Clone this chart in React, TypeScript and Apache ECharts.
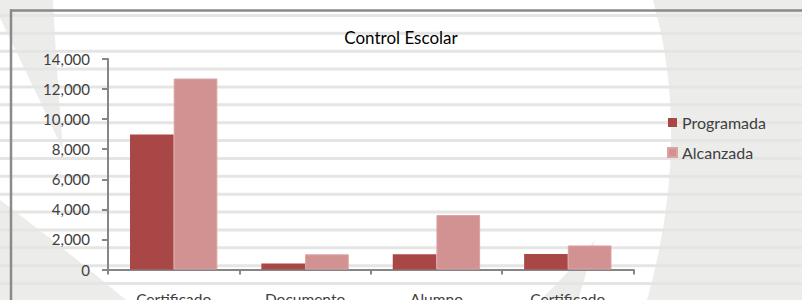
import React, { useEffect, useRef } from "react";
import * as echarts from "echarts";

const categories = ["Certificado", "Documento", "Alumno", "Certificado"];
const programada = [8980, 400, 1010, 1030];
const alcanzada = [12700, 1010, 3620, 1600];
const seriesNames = ["Programada", "Alcanzada"];
const yTicks = { min: 0, max: 14000, interval: 2000 };

echarts.graphic.registerShape(
  "wedgeTL",
  echarts.graphic.extendPath("M0,0 L53,0 Q57,80 63,150 Q35,90 0,18 Z", {})
);
echarts.graphic.registerShape(
  "wedgeBL",
  echarts.graphic.extendPath("M0,200 Q60,245 126,300 L0,300 Z", {})
);
echarts.graphic.registerShape(
  "regionR",
  echarts.graphic.extendPath("M653,0 Q692,140 647,300 L802,300 L802,0 Z", {})
);
echarts.graphic.registerShape(
  "wedgeBM",
  echarts.graphic.extendPath("M595,240 Q570,272 540,300 L578,300 Q588,268 595,240 Z", {})
);

export default function App() {
  const ref = useRef<HTMLDivElement>(null);
  useEffect(() => {
    if (!ref.current) return;
    const chart = echarts.init(ref.current, undefined, { renderer: "svg" });
    const bgGray = "#ececea";
    const graphics: any[] = [
      { type: "wedgeTL", x: 0, y: 0, z: -20, silent: true, style: { fill: bgGray } },
      { type: "wedgeBL", x: 0, y: 0, z: -20, silent: true, style: { fill: bgGray } },
      { type: "regionR", x: 0, y: 0, z: -20, silent: true, style: { fill: bgGray } },
      { type: "wedgeBM", x: 0, y: 0, z: -20, silent: true, style: { fill: bgGray } },
    ];
    for (let i = 0; i < 17; i++) {
      graphics.push({
        type: "rect",
        z: -15,
        silent: true,
        shape: { x: 0, y: 14 + i * 17.87, width: 802, height: 3 },
        style: { fill: "#e5e5e4" },
      });
    }
    graphics.push(
      {
        type: "line",
        z: -5,
        silent: true,
        shape: { x1: 10, y1: 10.5, x2: 802, y2: 10.5 },
        style: { stroke: "#8a8a8a", lineWidth: 2.5 },
      },
      {
        type: "line",
        z: -5,
        silent: true,
        shape: { x1: 11, y1: 9.5, x2: 11, y2: 300 },
        style: { stroke: "#8a8a8a", lineWidth: 2.5 },
      }
    );
    const font = "Lato, 'Open Sans', sans-serif";
    const axisColor = "#868686";
    chart.setOption({
      animation: false,
      backgroundColor: "#ffffff",
      graphic: graphics,
      title: {
        text: "Control Escolar",
        left: "center",
        top: 24,
        textStyle: { fontFamily: font, fontSize: 17, fontWeight: "normal", color: "#000000" },
      },
      legend: {
        orient: "vertical",
        left: 662,
        top: 108,
        itemWidth: 9,
        itemHeight: 9,
        itemGap: 11,
        icon: "rect",
        data: seriesNames,
        textStyle: { fontFamily: font, fontSize: 16, color: "#404040", lineHeight: 19 },
      },
      grid: {
        left: 108,
        top: 59,
        width: 525.5,
        height: 210.5,
        containLabel: false,
        outerBoundsMode: "none",
      },
      xAxis: {
        type: "category",
        data: categories,
        axisLine: { lineStyle: { color: axisColor, width: 2 } },
        axisTick: { show: true, length: 5, lineStyle: { color: axisColor, width: 2 } },
        axisLabel: { margin: 21, fontFamily: font, fontSize: 15.5, color: "#404040" },
      },
      yAxis: {
        type: "value",
        min: yTicks.min,
        max: yTicks.max,
        interval: yTicks.interval,
        axisLine: { show: true, lineStyle: { color: axisColor, width: 2 } },
        axisTick: { show: true, length: 6, lineStyle: { color: axisColor, width: 2 } },
        splitLine: { show: false },
        axisLabel: {
          margin: 18,
          fontFamily: font,
          fontSize: 15,
          color: "#404040",
          formatter: (v: number) => v.toLocaleString("en-US"),
        },
      },
      series: [
        {
          name: seriesNames[0],
          type: "bar",
          data: programada,
          barGap: "0%",
          barCategoryGap: "33.5%",
          itemStyle: { color: "#a94747" },
        },
        {
          name: seriesNames[1],
          type: "bar",
          data: alcanzada,
          barGap: "0%",
          barCategoryGap: "33.5%",
          itemStyle: { color: "#d39292", borderColor: "#dca3a3", borderWidth: 1 },
        },
      ],
    });
    return () => chart.dispose();
  }, []);
  return (
    <div
      ref={ref}
      style={{ position: "absolute", left: 0, top: 0, width: 802, height: 300 }}
    />
  );
}
